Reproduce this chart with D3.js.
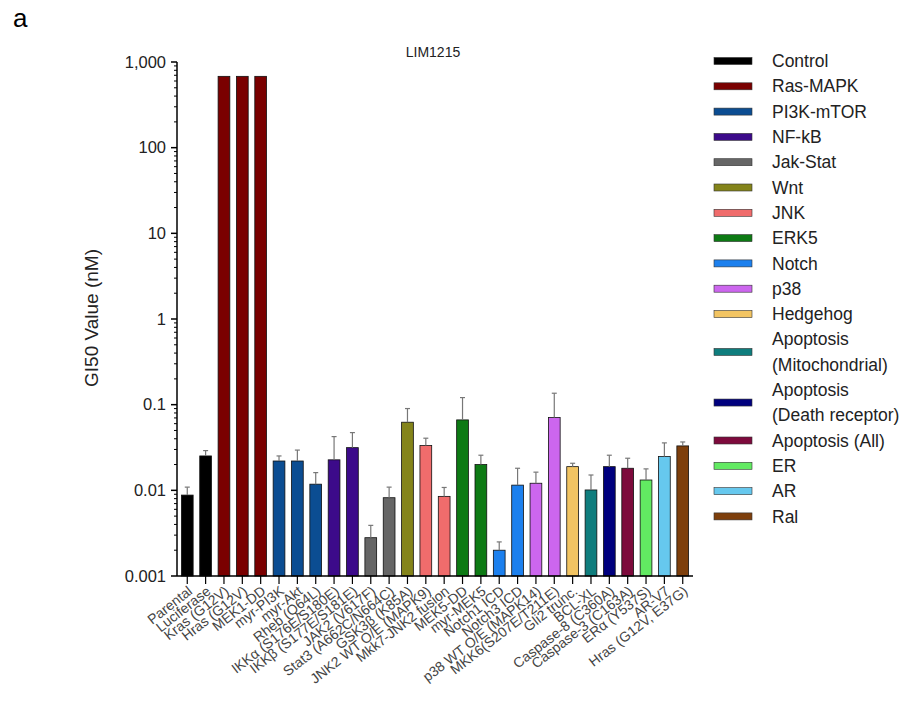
<!DOCTYPE html>
<html><head><meta charset="utf-8">
<script src="https://cdn.jsdelivr.net/npm/d3@7"></script>
<style>body{margin:0;background:#fff}svg{font-family:Arial,"Liberation Sans",sans-serif}</style>
</head><body>
<svg id="c" width="917" height="717"></svg>
<script>
const categories = ["Parental","Luciferase","Kras (G12V)","Hras (G12V)","MEK1-DD","myr-PI3K","myr-Akt","Rheb (Q64L)","IKKα (S176E/S180E)","IKKβ (S177E/S181E)","JAK2 (V617F)","Stat3 (A662C/N664C)","GSK3β (K85A)","JNK2 WT O/E (MAPK9)","Mkk7-JNK2 fusion","MEK5-DD","myr-MEK5","Notch1 ICD","Notch3 ICD","p38 WT O/E (MAPK14)","MKK6(S207E/T211E)","Gli2 trunc.","BCL-XL","Caspase-8 (C360A)","Caspase-3 (C163A)","ERα (Y537S)","AR-V7","Hras (G12V, E37G)"];
const groups = ["Control","Control","Ras-MAPK","Ras-MAPK","Ras-MAPK","PI3K-mTOR","PI3K-mTOR","PI3K-mTOR","NF-kB","NF-kB","Jak-Stat","Jak-Stat","Wnt","JNK","JNK","ERK5","ERK5","Notch","Notch","p38","p38","Hedgehog","Apoptosis (Mitochondrial)","Apoptosis (Death receptor)","Apoptosis (All)","ER","AR","Ral"];
const gi50 = [0.0088,0.0252,680,680,680,0.022,0.022,0.0118,0.0227,0.0315,0.0028,0.0082,0.0624,0.0333,0.0085,0.0664,0.0200,0.0020,0.0115,0.0121,0.0707,0.0189,0.0101,0.0189,0.0181,0.0132,0.0248,0.0330];
const errTop = [0.0109,0.0291,null,null,null,0.0252,0.0295,0.0161,0.0424,0.0472,0.0039,0.0109,0.0901,0.0406,0.0108,0.121,0.0257,0.0025,0.0181,0.0163,0.136,0.0207,0.0151,0.0257,0.0237,0.0178,0.0358,0.0367];
const legendNames = ["Control","Ras-MAPK","PI3K-mTOR","NF-kB","Jak-Stat","Wnt","JNK","ERK5","Notch","p38","Hedgehog","Apoptosis (Mitochondrial)","Apoptosis (Death receptor)","Apoptosis (All)","ER","AR","Ral"];
const legendLines = [["Control"],["Ras-MAPK"],["PI3K-mTOR"],["NF-kB"],["Jak-Stat"],["Wnt"],["JNK"],["ERK5"],["Notch"],["p38"],["Hedgehog"],["Apoptosis","(Mitochondrial)"],["Apoptosis","(Death receptor)"],["Apoptosis (All)"],["ER"],["AR"],["Ral"]];
const legendColors = ["#000000","#7a0000","#0b4d92","#3c0a8a","#666666","#84841a","#f06c6c","#0d7a14","#1c80ee","#cc66ee","#f2c462","#0f7d7d","#00007e","#7d0a3c","#62ea62","#66c8ee","#7e3f0c"];
const yTicks = [0.001,0.01,0.1,1,10,100,1000];
const yTickLabels = ["0.001","0.01","0.1","1","10","100","1,000"];

const svg = d3.select("#c");
const color = d3.scaleOrdinal().domain(legendNames).range(legendColors);
const x = d3.scaleBand().domain(categories).range([178,692]).paddingInner(0.36).paddingOuter(0.185);
const y = d3.scaleLog().domain([0.001,1000]).range([576,62]);
const axisX = 177;

// y axis
const gy = svg.append("g").attr("transform",`translate(${axisX},0)`);
gy.append("line").attr("x1",0).attr("x2",0).attr("y1",y(1000)).attr("y2",y(0.001)).attr("stroke","#000").attr("stroke-width",1.5);
const minor = [];
for (let e=-3;e<3;e++) for (let m=2;m<10;m++) minor.push(m*Math.pow(10,e));
gy.selectAll(".mn").data(minor).join("line").attr("x1",-3).attr("x2",0).attr("y1",d=>y(d)).attr("y2",d=>y(d)).attr("stroke","#000").attr("stroke-width",1);
gy.selectAll(".mj").data(yTicks).join("line").attr("x1",-6).attr("x2",0).attr("y1",d=>y(d)).attr("y2",d=>y(d)).attr("stroke","#000").attr("stroke-width",1.5);
gy.selectAll(".tl").data(yTicks).join("text").attr("x",-11).attr("y",d=>y(d)).attr("dy","0.35em").attr("text-anchor","end").attr("font-size",16.5).attr("fill","#222").text((d,i)=>yTickLabels[i]);
svg.append("text").attr("transform","translate(98,318) rotate(-90)").attr("text-anchor","middle").attr("font-size",19).attr("fill","#222").text("GI50 Value (nM)");

// bars
svg.selectAll(".bar").data(categories).join("rect")
  .attr("x",d=>x(d)).attr("width",x.bandwidth())
  .attr("y",(d,i)=>y(gi50[i])).attr("height",(d,i)=>y(0.001)-y(gi50[i]))
  .attr("fill",(d,i)=>color(groups[i])).attr("stroke","#111").attr("stroke-width",0.8);

// error bars
const eb = categories.map((c,i)=>({c,i})).filter(d=>errTop[d.i]!=null);
svg.selectAll(".ev").data(eb).join("line")
  .attr("x1",d=>x(d.c)+x.bandwidth()/2).attr("x2",d=>x(d.c)+x.bandwidth()/2)
  .attr("y1",d=>y(gi50[d.i])).attr("y2",d=>y(errTop[d.i])).attr("stroke","#777").attr("stroke-width",1.2);
svg.selectAll(".ec").data(eb).join("line")
  .attr("x1",d=>x(d.c)+x.bandwidth()/2-2.5).attr("x2",d=>x(d.c)+x.bandwidth()/2+2.5)
  .attr("y1",d=>y(errTop[d.i])).attr("y2",d=>y(errTop[d.i])).attr("stroke","#777").attr("stroke-width",1.2);

// x axis
svg.append("line").attr("x1",axisX).attr("x2",693).attr("y1",576).attr("y2",576).attr("stroke","#000").attr("stroke-width",1.5);
svg.selectAll(".xt").data(categories).join("line")
  .attr("x1",d=>x(d)+x.bandwidth()/2).attr("x2",d=>x(d)+x.bandwidth()/2)
  .attr("y1",576).attr("y2",584).attr("stroke","#000").attr("stroke-width",1.2);
svg.selectAll(".xl").data(categories).join("text")
  .attr("transform",d=>`translate(${x(d)+x.bandwidth()/2+3},589) rotate(-38)`)
  .attr("text-anchor","end").attr("dy","0.35em").attr("font-size",14).attr("fill","#444").text(d=>d);

// title & panel label
svg.append("text").attr("x",433).attr("y",57).attr("text-anchor","middle").attr("font-size",14).attr("fill","#222").text("LIM1215");
svg.append("text").attr("x",13).attr("y",27).attr("font-size",26).attr("fill","#000").text("a");

// legend
const lineH = 25.3;
let yy = 61;
const leg = svg.append("g");
legendNames.forEach((n,i)=>{
  const lines = legendLines[i];
  const hh = (lines.length-1)*lineH;
  leg.append("rect").attr("x",714).attr("y",yy+hh/2-3.5).attr("width",38).attr("height",7).attr("fill",color(n)).attr("stroke","#333").attr("stroke-width",0.6);
  lines.forEach((t,k)=>{
    leg.append("text").attr("x",772).attr("y",yy+k*lineH).attr("dy","0.35em").attr("font-size",17.5).attr("fill","#222").text(t);
  });
  yy += lines.length*lineH;
});
</script>
</body></html>
